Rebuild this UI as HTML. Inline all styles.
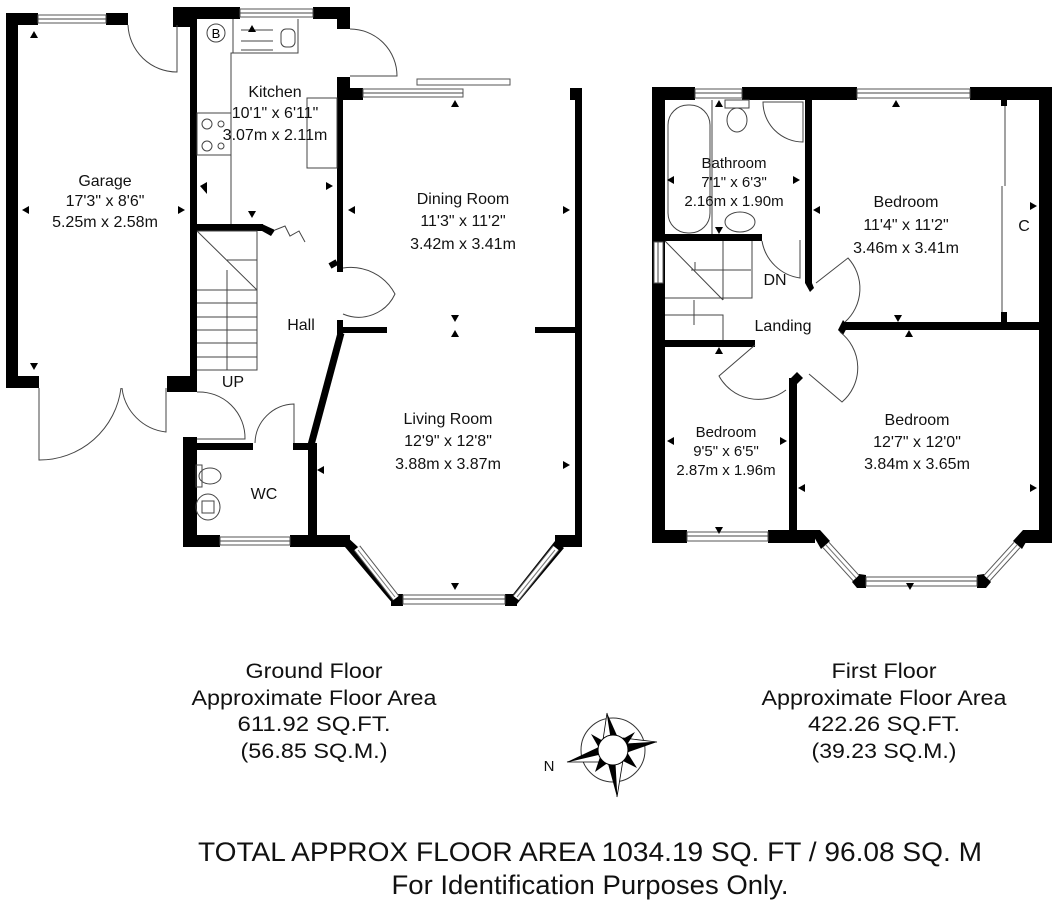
<!DOCTYPE html>
<html><head><meta charset="utf-8"><style>
html,body{margin:0;padding:0;background:#fff;}
svg{display:block;font-family:"Liberation Sans",sans-serif;}
.w{fill:#000;}
.t{font-size:16px;fill:#111;text-anchor:middle;}
.n{font-family:"Liberation Sans Narrow","Liberation Sans",sans-serif;fill:#111;text-anchor:middle;}
.thin{fill:none;stroke:#444;stroke-width:1;}
.win{fill:#fff;stroke:#555;stroke-width:1;}
</style></head><body>
<svg width="1056" height="904" viewBox="0 0 1056 904" xmlns="http://www.w3.org/2000/svg">
<!-- ================= GROUND FLOOR ================= -->
<g class="w">
<rect x="6" y="13" width="12" height="375"/>
<rect x="6" y="13" width="32" height="12"/>
<rect x="106" y="13" width="22" height="12"/>
<rect x="6" y="376" width="33" height="12"/>
<rect x="167" y="376" width="30" height="16"/>
<rect x="173" y="7" width="24" height="20"/>
<rect x="190" y="7" width="7" height="385"/>
<rect x="173" y="7" width="67" height="12"/>
<rect x="313" y="7" width="37" height="12"/>
<rect x="337" y="7" width="13" height="22"/>
<rect x="337" y="77" width="13" height="23"/>
<rect x="337" y="88" width="26" height="12"/>
<rect x="337" y="77" width="6" height="195"/>
<rect x="337" y="320" width="6" height="14"/>
<rect x="337" y="327" width="50" height="6"/>
<rect x="535" y="327" width="40" height="6"/>
<rect x="570" y="88" width="12" height="12"/>
<rect x="575" y="88" width="7" height="457"/>
<rect x="191" y="224" width="72" height="7"/>
<rect x="183" y="437" width="14" height="110"/>
<rect x="183" y="443" width="70" height="7"/>
<rect x="293" y="443" width="22" height="7"/>
<rect x="308" y="443" width="9" height="102"/>
<rect x="183" y="535" width="37" height="12"/>
<rect x="290" y="535" width="60" height="12"/>
<rect x="555" y="535" width="27" height="12"/>
</g>
<line x1="341" y1="333" x2="311" y2="445" stroke="#000" stroke-width="7"/>
<polygon points="262,224 275,230 271,236 262,231" fill="#000"/>
<line x1="337" y1="262" x2="330" y2="266" stroke="#000" stroke-width="6"/>
<polygon points="345,535 358,547 402,603 398,605 391,598 384,593 350,547" fill="#000"/>
<polygon points="350,541 357,548 401,600 395,606 388,598 345,547" fill="#000"/>
<rect x="391" y="594" width="12" height="12"/>
<rect x="505" y="594" width="12" height="12"/>
<polygon points="555,541 564,548 517,604 510,598" fill="#000"/>
<rect class="win" x="38" y="15" width="68" height="8"/><line class="thin" x1="38" y1="19" x2="106" y2="19"/>
<rect class="win" x="240" y="9" width="73" height="8"/><line class="thin" x1="240" y1="13" x2="313" y2="13"/>
<rect class="win" x="363" y="89" width="100" height="8"/><line class="thin" x1="363" y1="93" x2="463" y2="93"/>
<rect class="win" x="417" y="79" width="93" height="6"/>
<rect class="win" x="220" y="537" width="70" height="8"/><line class="thin" x1="220" y1="541" x2="290" y2="541"/>
<rect class="win" x="403" y="595" width="102" height="9"/><line class="thin" x1="403" y1="599" x2="505" y2="599"/>
<line x1="357" y1="548" x2="396" y2="598" stroke="#555" stroke-width="8"/><line x1="357" y1="548" x2="396" y2="598" stroke="#fff" stroke-width="6"/>
<line x1="358" y1="550" x2="395" y2="597" stroke="#777" stroke-width="1"/>
<line x1="556" y1="548" x2="516" y2="598" stroke="#555" stroke-width="8"/><line x1="556" y1="548" x2="516" y2="598" stroke="#fff" stroke-width="6"/>
<line x1="555" y1="550" x2="517" y2="597" stroke="#777" stroke-width="1"/>
<path class="thin" d="M128,25 A49,49 0 0 0 177,72 L177,25"/>
<path class="thin" d="M350,29 A47,47 0 0 1 397,76 L350,76"/>
<path class="thin" d="M343,268 A50,50 0 0 1 395,294 A40,40 0 0 1 343,314"/>
<path class="thin" d="M39,388 L39,460 A82,82 0 0 0 121,388"/>
<path class="thin" d="M166,388 L166,432 A50,50 0 0 1 122,388"/>
<path class="thin" d="M197,392 A46,46 0 0 1 245,439 L197,439"/>
<path class="thin" d="M255,443 A40,40 0 0 1 294,404 L294,443"/>
<path class="thin" d="M231,224 V53 H298 V19 M233,19 V53 M298,53 V19"/>
<rect class="thin" x="281" y="29" width="14" height="18" rx="5"/>
<line class="thin" x1="241" y1="30" x2="273" y2="30"/><line class="thin" x1="241" y1="41" x2="273" y2="41"/><line class="thin" x1="241" y1="50" x2="273" y2="50"/>
<circle class="thin" cx="216" cy="33" r="9"/><text x="216" y="38" font-size="13" text-anchor="middle">B</text>
<rect class="thin" x="197" y="113" width="34" height="42"/>
<circle class="thin" cx="207" cy="124" r="5"/><circle class="thin" cx="207" cy="146" r="5"/><circle class="thin" cx="221" cy="124" r="3"/><circle class="thin" cx="221" cy="146" r="3"/>
<rect class="thin" x="307" y="98" width="30" height="70"/>
<polyline class="thin" points="275,230 285,226 290,236 299,231 305,242" stroke="#777" stroke-width="2"/>
<path class="thin" d="M197,231 H257 V370 H197 M227,270 V370 M197,231 L257,290 M227,260 H257"/>
<path class="thin" d="M197,290 H257 M197,303 H257 M197,317 H257 M197,330 H257 M197,343 H257 M197,357 H257"/>
<rect class="thin" x="196" y="465" width="6" height="22"/><ellipse class="thin" cx="210" cy="476" rx="11" ry="8"/>
<ellipse class="thin" cx="208" cy="507" rx="12" ry="13"/><rect class="thin" x="202" y="501" width="12" height="12"/>
<g fill="#000">
<polygon points="34,31 30,38 38,38"/><polygon points="252,25 248,32 256,32"/><polygon points="455,100 451,107 459,107"/>
<polygon points="22,210 29,206 29,214"/><polygon points="185,210 178,206 178,214"/><polygon points="200,186 207,182 207,194"/>
<polygon points="333,186 326,182 326,190"/><polygon points="348,210 355,206 355,214"/><polygon points="570,210 563,206 563,214"/>
<polygon points="34,370 30,363 38,363"/><polygon points="252,218 248,211 256,211"/>
<polygon points="455,322 451,315 459,315"/><polygon points="455,330 451,337 459,337"/>
<polygon points="317,470 324,466 324,474"/><polygon points="570,465 563,461 563,469"/><polygon points="455,590 451,583 459,583"/>
</g>
<g class="t">
<text x="105" y="186">Garage</text><text x="105" y="206">17'3" x 8'6"</text><text x="105" y="227">5.25m x 2.58m</text>
<text x="275" y="97">Kitchen</text><text x="275" y="118">10'1" x 6'11"</text><text x="275" y="140">3.07m x 2.11m</text>
<text x="463" y="204">Dining Room</text><text x="463" y="226">11'3" x 11'2"</text><text x="463" y="249">3.42m x 3.41m</text>
<text x="301" y="330">Hall</text><text x="233" y="387">UP</text><text x="264" y="499">WC</text>
<text x="448" y="424">Living Room</text><text x="448" y="446">12'9" x 12'8"</text><text x="448" y="469">3.88m x 3.87m</text>
</g>
<!-- ================= FIRST FLOOR ================= -->
<g class="w">
<rect x="652" y="87" width="13" height="456"/>
<rect x="652" y="87" width="43" height="13"/>
<rect x="742" y="87" width="115" height="13"/>
<rect x="970" y="87" width="82" height="13"/>
<rect x="1039" y="87" width="13" height="456"/>
<rect x="665" y="234" width="97" height="7"/>
<rect x="805" y="100" width="7" height="183"/>
<rect x="843" y="322" width="196" height="8"/>
<rect x="665" y="340" width="90" height="7"/>
<rect x="789" y="378" width="8" height="165"/>
<rect x="652" y="530" width="35" height="13"/>
<rect x="768" y="530" width="47" height="13"/>
<rect x="1023" y="530" width="29" height="13"/>
<rect x="1001" y="100" width="6" height="6"/><rect x="1001" y="312" width="6" height="10"/>
</g>
<polygon points="805,283 812,283 814,288 810,292" fill="#000"/>
<polygon points="843,320 848,326 843,335 838,330" fill="#000"/>
<polygon points="789,380 797,372 803,378 795,386" fill="#000"/>
<!-- first floor bay -->
<polygon points="810,530 820,530 830,541 821,549" fill="#000"/>
<polygon points="1033,530 1023,530 1013,541 1022,549" fill="#000"/>
<polygon points="852,582 859,574 866,575 866,588 857,588" fill="#000"/>
<polygon points="991,582 984,574 977,575 977,588 986,588" fill="#000"/>
<line x1="826" y1="545" x2="856" y2="578" stroke="#555" stroke-width="9"/><line x1="826" y1="545" x2="856" y2="578" stroke="#fff" stroke-width="7"/>
<line x1="826" y1="545" x2="856" y2="578" stroke="#777" stroke-width="1"/>
<line x1="1017" y1="545" x2="987" y2="578" stroke="#555" stroke-width="9"/><line x1="1017" y1="545" x2="987" y2="578" stroke="#fff" stroke-width="7"/>
<line x1="1017" y1="545" x2="987" y2="578" stroke="#777" stroke-width="1"/>
<rect class="win" x="866" y="577" width="111" height="9"/><line class="thin" x1="866" y1="581" x2="977" y2="581"/>
<rect class="win" x="695" y="89" width="47" height="9"/><line class="thin" x1="695" y1="93" x2="742" y2="93"/>
<rect class="win" x="857" y="89" width="113" height="9"/><line class="thin" x1="857" y1="93" x2="970" y2="93"/>
<rect class="win" x="654" y="242" width="9" height="41"/><line class="thin" x1="658" y1="242" x2="658" y2="283"/>
<rect class="win" x="687" y="532" width="81" height="9"/><line class="thin" x1="687" y1="536" x2="768" y2="536"/>
<path class="thin" d="M1005,106 V186 M1002,186 V312"/>
<rect class="thin" x="668" y="105" width="42" height="128" rx="20"/>
<line class="thin" x1="712" y1="100" x2="712" y2="234"/>
<rect class="thin" x="725" y="100" width="24" height="8"/><ellipse class="thin" cx="737" cy="120" rx="10" ry="12"/>
<path class="thin" d="M763,102 H803 V142 A40,40 0 0 1 763,102 Z"/>
<ellipse class="thin" cx="740" cy="222" rx="15" ry="10"/>
<path class="thin" d="M665,241 L723,300 M695,270 V262 M723,241 V300 M691,270 H751 M752,241 V298 H665 M665,315 H723 V340 M694,300 V325"/>
<path class="thin" d="M762,241 A45,45 0 0 0 800,278 L800,240"/>
<path class="thin" d="M816,283 L848,258 A45,45 0 0 1 845,322"/>
<path class="thin" d="M840,332 A45,45 0 0 1 842,402 L809,374"/>
<path class="thin" d="M755,345 L719,376 A45,45 0 0 0 786,390"/>
<g fill="#000">
<polygon points="719,100 715,107 723,107"/><polygon points="896,100 892,107 900,107"/>
<polygon points="667,180 674,176 674,184"/><polygon points="800,180 793,176 793,184"/><polygon points="813,210 820,206 820,214"/>
<polygon points="1037,206 1030,202 1030,210"/><polygon points="719,234 715,227 723,227"/>
<polygon points="898,322 894,315 902,315"/><polygon points="909,330 905,337 913,337"/>
<polygon points="719,347 715,354 723,354"/><polygon points="667,441 674,437 674,445"/><polygon points="787,441 780,437 780,445"/>
<polygon points="798,488 805,484 805,492"/><polygon points="1037,488 1030,484 1030,492"/>
<polygon points="719,534 715,527 723,527"/><polygon points="910,590 906,583 914,583"/>
</g>
<g class="t">
<text x="734" y="168" font-size="15">Bathroom</text><text x="734" y="187" font-size="15">7'1" x 6'3"</text><text x="734" y="206" font-size="15">2.16m x 1.90m</text>
<text x="906" y="207">Bedroom</text><text x="906" y="230">11'4" x 11'2"</text><text x="906" y="253">3.46m x 3.41m</text>
<text x="1024" y="231">C</text><text x="775" y="285">DN</text><text x="783" y="331">Landing</text>
<text x="726" y="437" font-size="15">Bedroom</text><text x="726" y="456" font-size="15">9'5" x 6'5"</text><text x="726" y="475" font-size="15">2.87m x 1.96m</text>
<text x="917" y="425">Bedroom</text><text x="917" y="447">12'7" x 12'0"</text><text x="917" y="469">3.84m x 3.65m</text>
</g>
<g transform="translate(613,750)">
<circle r="32" fill="none" stroke="#333" stroke-width="1"/>
<polygon points="-6,-37 -2,-12 6,-10" fill="#000"/><polygon points="-6,-37 -10,-10 -2,-12" fill="#fff" stroke="#000" stroke-width="0.8"/>
<polygon points="44,-8 12,-6 10,4" fill="#000"/><polygon points="44,-8 10,-12 12,-6" fill="#fff" stroke="#000" stroke-width="0.8"/>
<polygon points="4,47 2,12 -6,10" fill="#000"/><polygon points="4,47 10,10 2,12" fill="#fff" stroke="#000" stroke-width="0.8"/>
<polygon points="-46,12 -12,4 -10,-5" fill="#000"/><polygon points="-46,12 -10,12 -12,4" fill="#fff" stroke="#000" stroke-width="0.8"/>
<polygon points="-22,-16 -8,-8 -14,-2" fill="#000"/><polygon points="22,-18 8,-10 12,-2" fill="#000"/>
<polygon points="24,18 14,2 8,10" fill="#000"/><polygon points="-18,22 -12,4 -4,12" fill="#000"/>
<circle r="15" fill="#fff" stroke="#000" stroke-width="1"/>
</g>
<text x="549" y="771" font-size="15" class="n">N</text>
<g class="n" font-size="21">
<text x="314" y="678" textLength="137" lengthAdjust="spacingAndGlyphs">Ground Floor</text>
<text x="314" y="705" textLength="245" lengthAdjust="spacingAndGlyphs">Approximate Floor Area</text>
<text x="314" y="731" textLength="153" lengthAdjust="spacingAndGlyphs">611.92 SQ.FT.</text>
<text x="314" y="758" textLength="147" lengthAdjust="spacingAndGlyphs">(56.85 SQ.M.)</text>
<text x="884" y="678" textLength="105" lengthAdjust="spacingAndGlyphs">First Floor</text>
<text x="884" y="705" textLength="245" lengthAdjust="spacingAndGlyphs">Approximate Floor Area</text>
<text x="884" y="731" textLength="152" lengthAdjust="spacingAndGlyphs">422.26 SQ.FT.</text>
<text x="884" y="758" textLength="145" lengthAdjust="spacingAndGlyphs">(39.23 SQ.M.)</text>
</g>
<g class="n" font-size="27">
<text x="590" y="861" textLength="784" lengthAdjust="spacingAndGlyphs">TOTAL APPROX FLOOR AREA 1034.19 SQ. FT / 96.08 SQ. M</text>
<text x="590" y="894" textLength="397" lengthAdjust="spacingAndGlyphs">For Identification Purposes Only.</text>
</g>
</svg>
</body></html>
